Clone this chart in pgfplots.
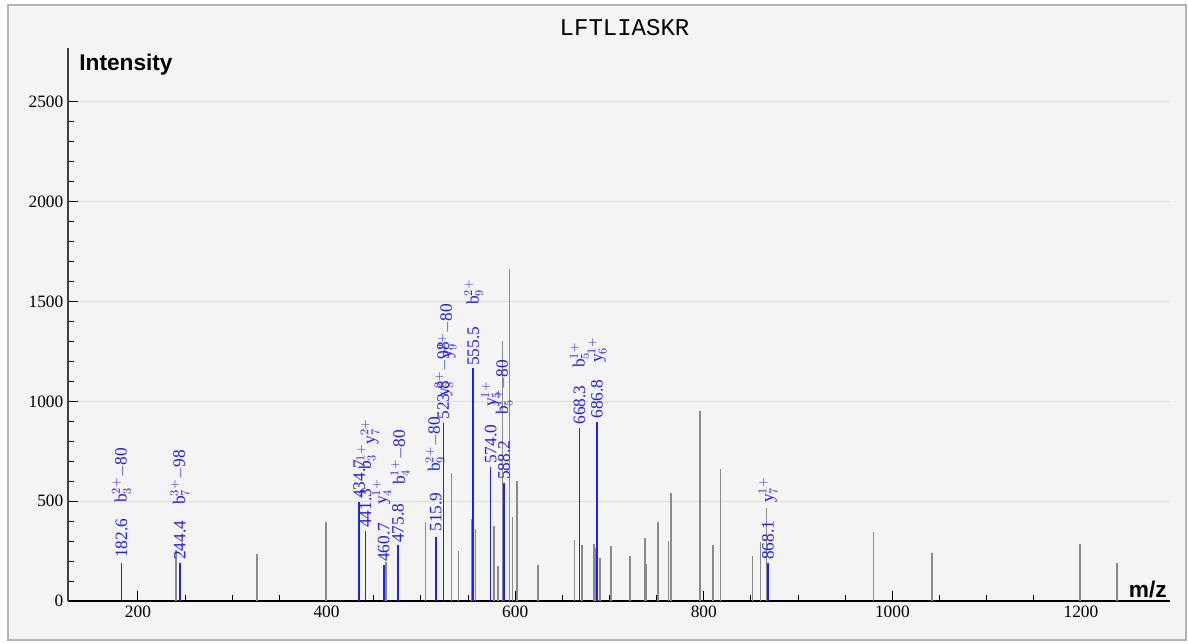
\documentclass[border=0pt]{standalone}
\usepackage{pgfplots}
\pgfplotsset{compat=1.18}
\usepackage{fontspec}
\setmainfont{Liberation Serif}
\newfontfamily\sansfont{Liberation Sans}
\newfontfamily\monofont{Liberation Mono}
\definecolor{bgc}{HTML}{F4F4F4}
\definecolor{framec}{HTML}{B4B4B4}
\definecolor{gridc}{HTML}{DCDCDC}
\definecolor{peakgray}{HTML}{8A8A8A}
\definecolor{annblue}{RGB}{30,30,255}
\pgfdeclarelayer{bg}
\pgfsetlayers{bg,main}
\begin{document}
\begin{tikzpicture}
\begin{axis}[
  scale only axis, width=826.5pt, height=414.75pt,
  xmin=125.8, xmax=1294.4, ymin=0, ymax=2770,
  clip=false,
  axis lines=left, axis line style={-},
  x axis line style={black, line width=0.9pt},
  y axis line style={black!75, line width=0.9pt},
  xtick={200,400,...,1200}, ytick={0,500,...,2500},
  minor x tick num=3, minor y tick num=4,
  tick align=inside, major tick length=7.5pt, minor tick length=4.5pt,
  tick style={black, line width=0.75pt},
  ymajorgrids, major grid style={gridc, line width=0.75pt},
  tick label style={font=\fontsize{13}{15}\selectfont},
  /pgf/number format/assume math mode=true,
  /pgf/number format/set thousands separator={},
  scaled ticks=false,
  title={LFTLIASKR},
  title style={font=\monofont\fontsize{18}{20}\selectfont, at={(0.505,1)}, anchor=base, yshift=3pt},
  ylabel={Intensity},
  ylabel style={font=\sansfont\bfseries\fontsize{17}{20}\selectfont, rotate=-90, at={(rel axis cs:0,1)}, anchor=base west, xshift=5pt, yshift=-17.25pt},
  xlabel={m/z},
  xlabel style={font=\sansfont\bfseries\fontsize{17}{20}\selectfont, at={(rel axis cs:1,0)}, anchor=base east, yshift=3pt, xshift=1pt},
]
% unannotated peaks
\addplot[ycomb, color=peakgray, line width=1.2pt, mark=none] coordinates {
(240.3,255) (326.2,234) (399.4,396) (463.0,197) (505.1,397) (532.6,642)
(540.1,250) (554.5,413) (558.1,363) (577.5,376) (581.7,175) (586.7,1304)
(593.8,1663) (597.0,419) (601.9,601) (624.5,179) (663.1,305) (670.8,280)
(683.6,285) (685.7,266) (689.9,217) (701.6,275) (721.7,227) (737.6,314)
(738.7,185) (751.7,397) (762.4,300) (765.2,540) (795.9,952) (809.8,280)
(817.9,660) (851.8,225) (860.3,297) (866.3,464) (979.8,347) (1041.9,239)
(1198.9,286) (1237.9,192)
};
% annotated peaks
\addplot[ycomb, color=annblue, line width=1.2pt, mark=none] coordinates {
(182.6,190) (244.4,190) (434.7,495) (441.3,350) (460.7,180) (475.8,280)
(515.9,322) (523.8,892) (555.5,1167) (574.0,673) (588.2,590) (668.3,867)
(686.8,897) (868.1,192)
};
% m/z labels
\addplot[draw=none, mark=none, nodes near coords, point meta=explicit symbolic,
  nodes near coords style={rotate=90, anchor=west, inner sep=0pt, text=annblue, font=\fontsize{13}{15}\selectfont}]
coordinates {
(182.6,215) [182.6] (244.4,205) [244.4] (434.7,511) [434.7] (441.3,366) [441.3]
(460.7,195) [460.7] (475.8,290) [475.8] (515.9,346) [515.9] (523.8,907) [523.8]
(555.5,1177) [555.5] (574.0,686) [574.0] (588.2,606) [588.2] (668.3,882) [668.3]
(686.8,912) [686.8] (868.1,205) [868.1]
};
% ion labels
\addplot[draw=none, mark=none, nodes near coords, point meta=explicit symbolic,
  nodes near coords style={rotate=90, anchor=west, inner sep=0pt, text=annblue, font=\fontsize{13}{15}\selectfont}]
coordinates {
(182.6,491) [b$_3^{2+}$$-$80]
(244.4,481) [b$_7^{3+}$$-$98]
(441.8,656) [b$_3^{1+}$]
(446.0,782) [y$_7^{2+}$]
(458.4,481) [y$_4^{1+}$]
(477.8,581) [b$_4^{1+}$$-$80]
(514.9,646) [b$_9^{2+}$$-$80]
(524.4,1022) [y$_8^{2+}$$-$98]
(527.7,1212) [y$_9^{2+}$$-$80]
(556.0,1483) [b$_9^{2+}$]
(574.0,972) [y$_5^{1+}$]
(587.0,932) [b$_5^{1+}$$-$80]
(668.3,1167) [b$_5^{1+}$]
(686.8,1192) [y$_6^{1+}$]
(868.1,491) [y$_7^{1+}$]
};
\end{axis}
\begin{pgfonlayer}{bg}
\fill[white] ([shift={(-51pt,-31.5pt)}]current axis.south west) rectangle ([shift={(13.5pt,36pt)}]current axis.north east);
\filldraw[fill=bgc, draw=framec, line width=2pt] ([shift={(-45pt,-29.25pt)}]current axis.south west) rectangle ([shift={(12pt,32.25pt)}]current axis.north east);
\end{pgfonlayer}
\end{tikzpicture}
\end{document}
